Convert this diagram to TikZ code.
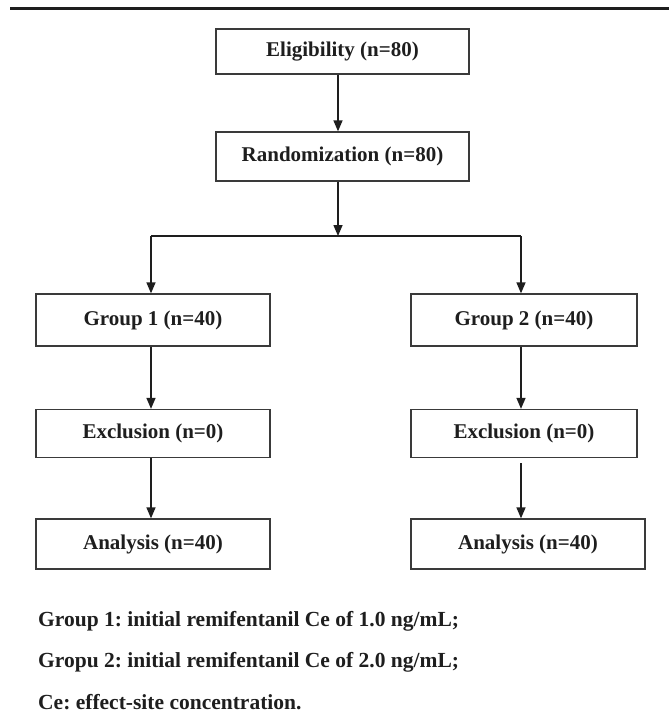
\documentclass[tikz,border=0pt]{standalone}
\usepackage{fontspec}
\setmainfont{Liberation Serif}
\usetikzlibrary{arrows.meta,calc}
\definecolor{boxline}{HTML}{3A3A3A}
\definecolor{inkc}{HTML}{1E1E1E}
\frenchspacing
\begin{document}
\begin{tikzpicture}[x=1pt,y=-1pt,
  flowbox/.style={draw=boxline,line width=1.3pt,fill=white,inner sep=0pt,
    text=inkc,font=\fontsize{21}{25}\selectfont\bfseries},
  flowarrow/.style={draw=inkc,line width=1.5pt,-{Triangle[width=9pt,length=11pt]}},
  flowline/.style={draw=inkc,line width=1.5pt},
  notetext/.style={anchor=base west,inner sep=0pt,text=inkc,
    font=\fontsize{21.5}{25}\selectfont\bfseries}]
\useasboundingbox (0,0) rectangle (669,713);
% top rule
\coordinate (ruleL) at (10,8.5);
\coordinate (ruleR) at (669,8.5);
\draw[draw=inkc,line width=2.4pt] (ruleL) -- (ruleR);
% boxes
\node[flowbox,minimum width=253pt,minimum height=45pt] (elig) at (342.5,51.5) {Eligibility (n=80)};
\node[flowbox,minimum width=253pt,minimum height=49pt] (rand) at (342.5,156.5) {Randomization (n=80)};
\node[flowbox,minimum width=234pt,minimum height=52pt] (g1) at (153,320) {Group 1 (n=40)};
\node[flowbox,minimum width=226pt,minimum height=52pt] (g2) at (524,320) {Group 2 (n=40)};
\node[flowbox,minimum width=234pt,minimum height=48pt] (ex1) at (153,433.5) {Exclusion (n=0)};
\node[flowbox,minimum width=226pt,minimum height=48pt] (ex2) at (524,433.5) {Exclusion (n=0)};
\node[flowbox,minimum width=234pt,minimum height=50pt] (an1) at (153,544) {Analysis (n=40)};
\node[flowbox,minimum width=234pt,minimum height=50pt] (an2) at (528,544) {Analysis (n=40)};
% connector coordinates
\coordinate (split) at (338,236);
\coordinate (colL) at (151,236);
\coordinate (colR) at (521,236);
% connectors
\draw[flowarrow] (elig.south -| split) -- (rand.north -| split);
\draw[flowarrow] (rand.south -| split) -- (split);
\draw[flowline] (colL) -- (colR);
\draw[flowarrow] (colL) -- (g1.north -| colL);
\draw[flowarrow] (colR) -- (g2.north -| colR);
\draw[flowarrow] (g1.south -| colL) -- (ex1.north -| colL);
\draw[flowarrow] (g2.south -| colR) -- (ex2.north -| colR);
\draw[flowarrow] (ex1.south -| colL) -- (an1.north -| colL);
\draw[flowarrow] ($(ex2.south -| colR)+(0,5)$) -- (an2.north -| colR);
% footnotes
\node[notetext] (n1) at (38,626) {Group 1: initial remifentanil Ce of 1.0 ng/mL;};
\node[notetext] (n2) at (38,667.5) {Gropu 2: initial remifentanil Ce of 2.0 ng/mL;};
\node[notetext] (n3) at (38,709.5) {Ce: effect-site concentration.};
\end{tikzpicture}
\end{document}
